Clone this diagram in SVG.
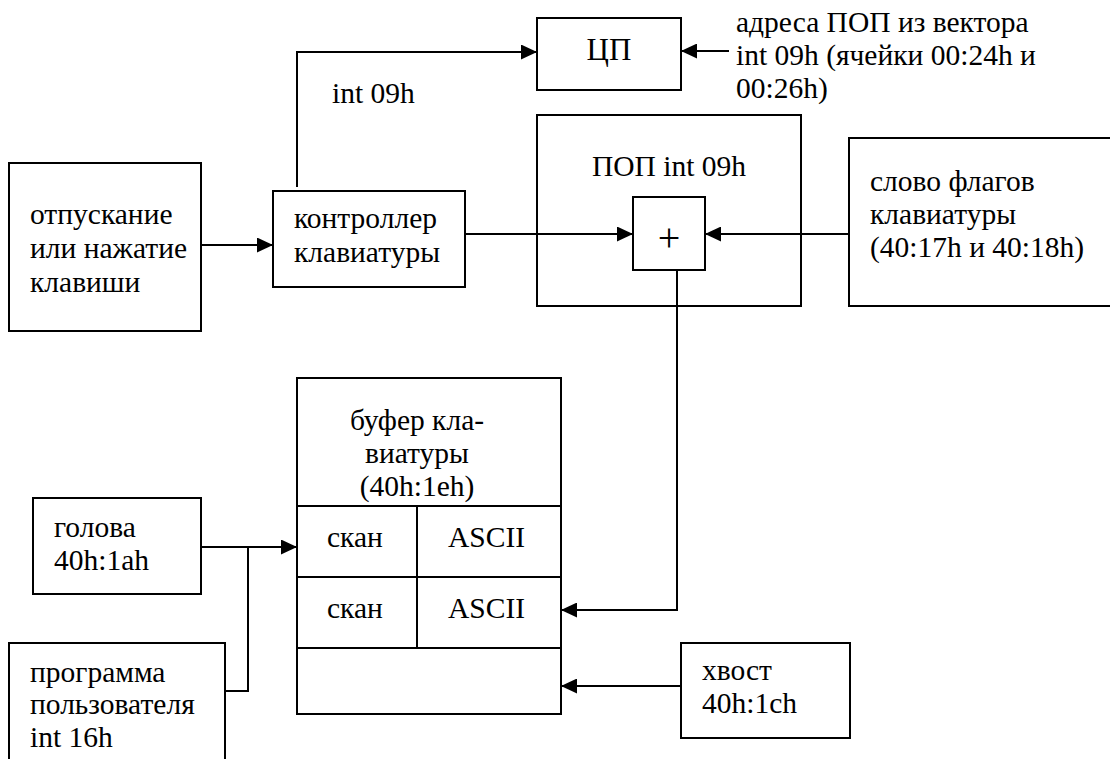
<svg xmlns="http://www.w3.org/2000/svg" width="1110" height="759" viewBox="0 0 1110 759">
<defs>
<style>
.b{fill:#fff;stroke:#000;stroke-width:2}
.l{fill:none;stroke:#000;stroke-width:2}
.a{marker-end:url(#ah)}
.m{text-anchor:middle}
</style>
<marker id="ah" markerUnits="userSpaceOnUse" markerWidth="16" markerHeight="15" refX="16" refY="7.5" orient="auto">
<path d="M0,0 L16,7.5 L0,15 z" fill="#000"/>
</marker>
</defs>
<rect width="1110" height="759" fill="#fff"/>

<g font-family="Liberation Serif, Times New Roman, serif" font-size="29.5" fill="#000">
<g id="press">
<rect class="b" x="9" y="163" width="192" height="168"/>
<text x="30" y="224">отпускание</text>
<text x="30" y="258">или нажатие</text>
<text x="30" y="292">клавиши</text>
</g>

<g id="controller">
<rect class="b" x="273" y="191" width="192" height="96"/>
<text x="294" y="228">контроллер</text>
<text x="294" y="262">клавиатуры</text>
</g>

<g id="cpu">
<rect class="b" x="537" y="18" width="144" height="72"/>
<text class="m" x="609" y="60" font-size="31">ЦП</text>
</g>

<g id="vector-note">
<text x="736" y="32">адреса ПОП из вектора</text>
<text x="736" y="65">int 09h (ячейки 00:24h и</text>
<text x="736" y="98">00:26h)</text>
</g>

<g id="int-label">
<text x="332" y="103">int 09h</text>
</g>

<g id="isr">
<rect class="b" x="537" y="115" width="264" height="191"/>
<text class="m" x="669" y="176">ПОП int 09h</text>
</g>

<g id="plus">
<rect class="b" x="633" y="197" width="72" height="73"/>
<text class="m" x="669" y="251" font-size="40">+</text>
</g>

<g id="flags">
<rect class="b" x="849" y="138" width="280" height="168"/>
<text x="870" y="191">слово флагов</text>
<text x="870" y="224">клавиатуры</text>
<text x="870" y="257">(40:17h и 40:18h)</text>
</g>

<g id="buffer">
<rect class="b" x="297" y="378" width="264" height="336"/>
<line class="l" x1="297" y1="506" x2="561" y2="506"/>
<line class="l" x1="297" y1="577" x2="561" y2="577"/>
<line class="l" x1="297" y1="648" x2="561" y2="648"/>
<line class="l" x1="417" y1="506" x2="417" y2="648"/>
<text class="m" x="417" y="430">буфер кла-</text>
<text class="m" x="417" y="463">виатуры</text>
<text class="m" x="417" y="496">(40h:1eh)</text>
<text x="327" y="547">скан</text>
<text x="448" y="547">ASCII</text>
<text x="327" y="618">скан</text>
<text x="448" y="618">ASCII</text>
</g>

<g id="head">
<rect class="b" x="33" y="498" width="168" height="96"/>
<text x="54" y="537">голова</text>
<text x="54" y="570">40h:1ah</text>
</g>

<g id="program">
<rect class="b" x="9" y="643" width="216" height="130"/>
<text x="30" y="682">программа</text>
<text x="30" y="714">пользователя</text>
<text x="30" y="747">int 16h</text>
</g>

<g id="tail">
<rect class="b" x="681" y="643" width="169" height="95"/>
<text x="702" y="680">хвост</text>
<text x="702" y="713">40h:1ch</text>
</g>
</g>

<g id="connectors">
<line class="l a" x1="201" y1="245" x2="273" y2="245"/>
<polyline class="l a" points="297,187 297,52 537,52"/>
<line class="l a" x1="729" y1="51" x2="681" y2="51"/>
<line class="l a" x1="465" y1="234" x2="633" y2="234"/>
<line class="l a" x1="849" y1="234" x2="705" y2="234"/>
<polyline class="l a" points="677,270 677,610 561,610"/>
<line class="l a" x1="201" y1="547" x2="297" y2="547"/>
<polyline class="l" points="225,691 248,691 248,547"/>
<line class="l a" x1="681" y1="686" x2="561" y2="686"/>
</g>
</svg>
